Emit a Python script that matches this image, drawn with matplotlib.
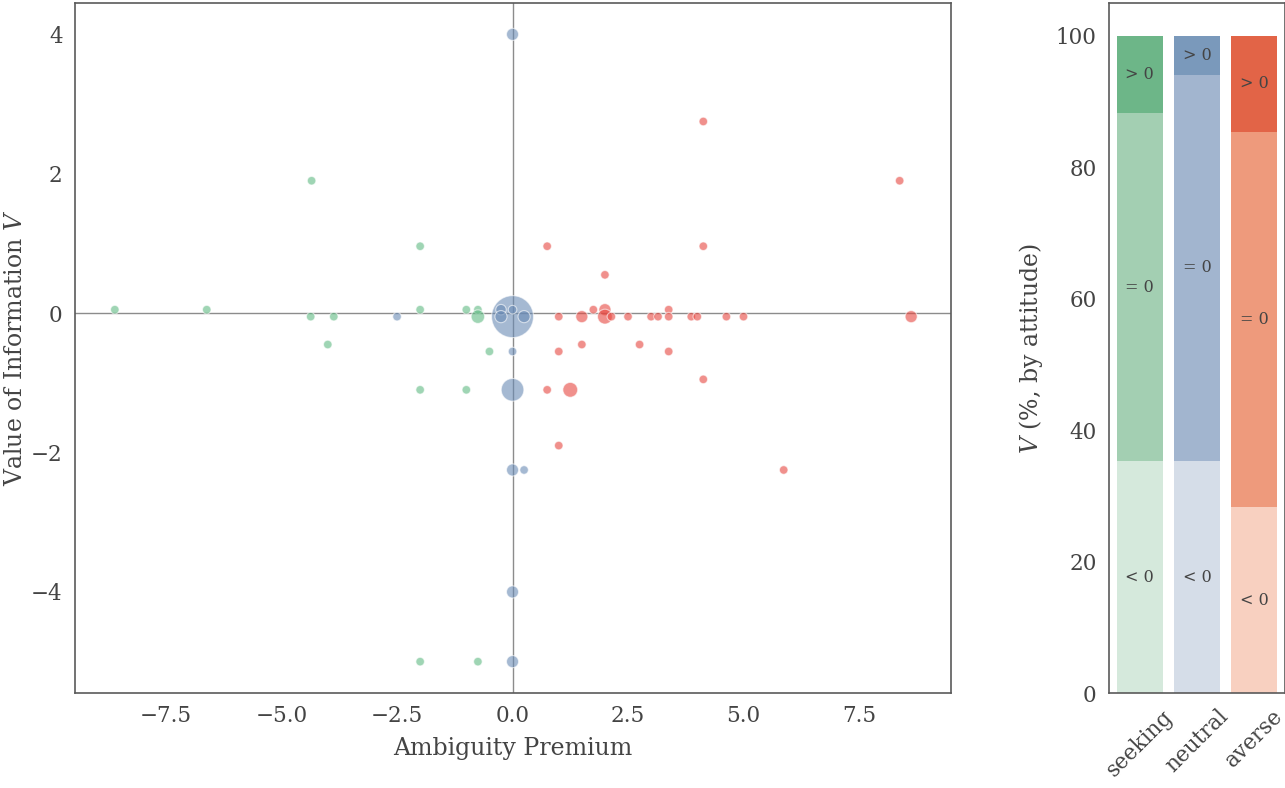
"""Ambiguity premium vs value of information, plus V sign shares by attitude."""
import numpy as np
import matplotlib
matplotlib.use("Agg")
import matplotlib.pyplot as plt

plt.rcParams["font.family"] = ["DejaVu Serif"]
plt.rcParams["mathtext.fontset"] = "dejavuserif"

# scatter: (ambiguity premium, value of information, marker weight) per attitude
seek_x = [-8.61, -6.62, -4.35, -4.37, -3.87, -4.0, -2.0, -2.0, -2.0, -2.0,
          -1.0, -1.0, -0.75, -0.75, -0.75, -0.5]
seek_y = [0.05, 0.05, 1.9, -0.05, -0.05, -0.45, 0.96, 0.05, -1.1, -5.0,
          0.05, -1.1, 0.05, -0.05, -5.0, -0.55]
seek_s = [1, 1, 1, 1, 1, 1, 1, 1, 1, 1, 1, 1, 1, 2.5, 1, 1]

neut_x = [-2.5, 0.0, 0.0, -0.25, -0.25, 0.0, 0.25, 0.0, 0.0, 0.0, 0.25, 0.0, 0.0]
neut_y = [-0.05, 4.0, -0.05, 0.05, -0.05, 0.05, -0.05, -0.55, -1.1, -2.25, -2.25, -4.0, -5.0]
neut_s = [1, 2, 24, 1.5, 2, 1, 2, 1, 7, 2, 1, 2, 2]

aver_x = [0.75, 0.75, 1.0, 1.0, 1.0, 1.25, 1.5, 1.5, 1.75, 2.0, 2.0, 2.0, 2.14,
          2.5, 2.75, 3.0, 3.15, 3.38, 3.38, 3.38, 3.87, 4.0, 4.13, 4.13, 4.13,
          4.63, 5.0, 5.87, 8.38, 8.63]
aver_y = [0.96, -1.1, -0.05, -0.55, -1.9, -1.1, -0.05, -0.45, 0.05, 0.55, 0.05,
          -0.05, -0.05, -0.05, -0.45, -0.05, -0.05, 0.05, -0.05, -0.55, -0.05,
          -0.05, 0.96, 2.75, -0.95, -0.05, -0.05, -2.25, 1.9, -0.05]
aver_s = [1, 1, 1, 1, 1, 3, 2, 1, 1, 1, 2, 3, 1, 1, 1, 1, 1, 1, 1, 1, 1, 1, 1,
          1, 1, 1, 1, 1, 1, 2]

# stacked bars: share of V < 0, = 0, > 0 per attitude (%)
attitudes = ["seeking", "neutral", "averse"]
pct_lt = [35.3, 35.3, 28.3]
pct_eq = [52.9, 58.8, 57.1]
pct_gt = [11.8, 5.9, 14.6]

pt_colors = {"seeking": "#5fba82", "neutral": "#6a8bb5", "averse": "#e6463f"}
bar_colors = {
    "seeking": ["#d5e9dc", "#a3cfb2", "#6db688"],
    "neutral": ["#d5dde8", "#a2b5cf", "#7a99bb"],
    "averse": ["#f8d0c0", "#ee9a7c", "#e26447"],
}
TXT = "#444444"
SPINE = "#5a5a5a"

fig = plt.figure(figsize=(12.85, 7.88), dpi=100)
ax = fig.add_axes([75 / 1285, 95 / 788, 876 / 1285, 690 / 788])
ax2 = fig.add_axes([1109 / 1285, 95 / 788, 176 / 1285, 690 / 788])

ax.axhline(0, color="#8c8c8c", lw=1.0, zorder=1)
ax.axvline(0, color="#8c8c8c", lw=1.0, zorder=1)
for name, xs, ys, ss in [("seeking", seek_x, seek_y, seek_s),
                         ("neutral", neut_x, neut_y, neut_s),
                         ("averse", aver_x, aver_y, aver_s)]:
    ax.scatter(xs, ys, s=np.array(ss) * 38, color=pt_colors[name], alpha=0.6,
               edgecolor="white", linewidth=0.8, zorder=2)

ax.set_xlabel("Ambiguity Premium", fontsize=17, color=TXT, labelpad=7)
ax.set_ylabel("Value of Information $V$", fontsize=17, color=TXT, labelpad=3)
ax.set_xticks([-7.5, -5.0, -2.5, 0.0, 2.5, 5.0, 7.5])
ax.set_yticks([-4, -2, 0, 2, 4])

x = np.arange(len(attitudes))
b1 = ax2.bar(x, pct_lt, width=0.8, color=[bar_colors[a][0] for a in attitudes])
b2 = ax2.bar(x, pct_eq, width=0.8, bottom=pct_lt,
             color=[bar_colors[a][1] for a in attitudes])
b3 = ax2.bar(x, pct_gt, width=0.8, bottom=np.add(pct_lt, pct_eq),
             color=[bar_colors[a][2] for a in attitudes])
for bars, lab in [(b1, "< 0"), (b2, "= 0"), (b3, "> 0")]:
    ax2.bar_label(bars, labels=[lab] * len(bars), label_type="center",
                  fontsize=11.5, color=TXT)
ax2.set_xticks(x)
ax2.set_xticklabels(attitudes, rotation=45, ha="center")
ax2.set_ylabel("$V$ (%, by attitude)", fontsize=17, color=TXT, labelpad=8)
ax2.set_yticks([0, 20, 40, 60, 80, 100])

for a in (ax, ax2):
    a.tick_params(length=0, pad=9, labelsize=15.5, labelcolor=TXT)
    for sp in a.spines.values():
        sp.set_color(SPINE)
        sp.set_linewidth(1.2)

fig.savefig("out.png", dpi=100)
